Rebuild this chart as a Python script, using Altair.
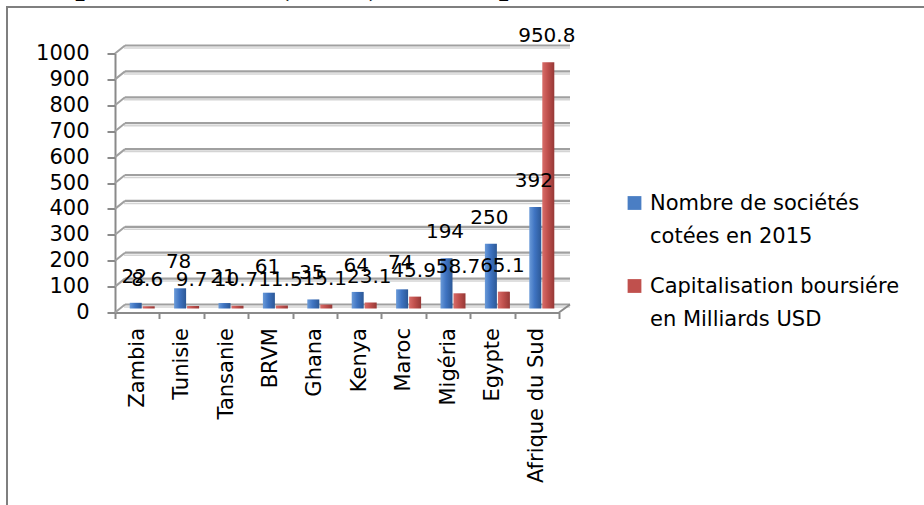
import altair as alt
import pandas as pd

# Data: listed companies and market capitalisation of African stock exchanges
pays = ["Zambia", "Tunisie", "Tansanie", "BRVM", "Ghana", "Kenya", "Maroc",
        "Migéria", "Egypte", "Afrique du Sud"]
nombre_societes = [22, 78, 21, 61, 35, 64, 74, 194, 250, 392]
capitalisation = [8.6, 9.7, 10.7, 11.5, 15.1, 23.1, 45.9, 58.7, 65.1, 950.8]

series = ["Nombre de sociétés cotées en 2015",
          "Capitalisation boursiére en Milliards USD"]
series_wrapped = ["Nombre de sociétés\ncotées en 2015",
                  "Capitalisation boursiére\nen Milliards USD"]
y_ticks = [0, 100, 200, 300, 400, 500, 600, 700, 800, 900, 1000]

title_left = "Les principales bourses"
title_right = "(BVM) en Afrique"

df = pd.DataFrame({"pays": pays, "nombre": nombre_societes, "capital": capitalisation})
grid_df = pd.DataFrame({"v": y_ticks})
one = pd.DataFrame({"k": [0]})

W, H = 444, 259
FONT = "DejaVu Sans"
AXIS_GREY = "#8a8a8a"
GRID_GREY = "#a0a0a0"

x_axis = alt.Axis(labelAngle=-90, labelFont=FONT, labelFontSize=21,
                  labelColor="black", labelPadding=9, tickBand="extent",
                  tickSize=6, tickColor=AXIS_GREY, tickWidth=2,
                  domainColor=AXIS_GREY, domainWidth=2, labelLimit=300)
y_axis = alt.Axis(values=y_ticks, format="d", grid=False, labelFont=FONT,
                  labelFontSize=21, labelColor="black", labelPadding=18,
                  tickSize=8, tickColor=AXIS_GREY, tickWidth=2,
                  domainColor=AXIS_GREY, domainWidth=2)
x_scale = alt.Scale(paddingInner=0, paddingOuter=0)
y_scale = alt.Scale(domain=[0, 1000], nice=False)


def X():
    return alt.X("pays:N", sort=pays, title=None, scale=x_scale, axis=x_axis)


def Y(field):
    return alt.Y(field, title=None, scale=y_scale, axis=y_axis)


blue_fill = alt.Gradient(gradient="linear", x1=0, x2=1, y1=0, y2=0,
                         stops=[alt.GradientStop(color="#6a9ad8", offset=0),
                                alt.GradientStop(color="#3f74c2", offset=0.45),
                                alt.GradientStop(color="#2c5896", offset=1)])
red_fill = alt.Gradient(gradient="linear", x1=0, x2=1, y1=0, y2=0,
                        stops=[alt.GradientStop(color="#d86c68", offset=0),
                               alt.GradientStop(color="#c0504d", offset=0.45),
                               alt.GradientStop(color="#963836", offset=1)])

# 3D-style walls: back-wall gridlines, slanted connectors and floor edge
grid_shadow = alt.Chart(grid_df).mark_rule(color="#d4d4d4", strokeWidth=1.5, yOffset=-5.5).encode(
    y=Y("v:Q"), x=alt.value(9), x2=alt.value(W + 11))
grid = alt.Chart(grid_df).mark_rule(color=GRID_GREY, strokeWidth=2.2, yOffset=-8).encode(
    y=Y("v:Q"), x=alt.value(10), x2=alt.value(W + 11))
connectors = alt.Chart(grid_df).mark_rule(color=GRID_GREY, strokeWidth=2, y2Offset=-8).encode(
    y=Y("v:Q"), y2="v:Q", x=alt.value(0), x2=alt.value(10))
floor_right = alt.Chart(grid_df[grid_df.v == 0]).mark_rule(
    color=AXIS_GREY, strokeWidth=2, y2Offset=-8).encode(
    y=Y("v:Q"), y2="v:Q", x=alt.value(W), x2=alt.value(W + 11))

blue = alt.Chart(df).mark_bar(width=12, xOffset=-1.5, yOffset=-4, y2Offset=-4,
                              fill=blue_fill).encode(x=X(), y=Y("nombre:Q"))
red = alt.Chart(df).mark_bar(width=12, xOffset=11.5, yOffset=-4, y2Offset=-4,
                             fill=red_fill).encode(x=X(), y=Y("capital:Q"))

blue_lbl = alt.Chart(df).mark_text(font=FONT, fontSize=20, color="black",
                                   xOffset=-3, dy=-30, baseline="middle").encode(
    x=X(), y=Y("nombre:Q"), text=alt.Text("nombre:Q"))
red_lbl = alt.Chart(df).mark_text(font=FONT, fontSize=20, color="black",
                                  xOffset=10, dy=-30, baseline="middle").encode(
    x=X(), y=Y("capital:Q"), text=alt.Text("capital:Q"))

# Legend drawn beside the plot
legend_layers = []
for i, (name, color) in enumerate(zip(series_wrapped, ["#4a7ec4", "#c0504d"])):
    dy = i * 83
    legend_layers.append(alt.Chart(one).mark_square(size=190, color=color, opacity=1).encode(
        x=alt.value(519.5), y=alt.value(149.5 + dy)))
    legend_layers.append(alt.Chart(one).mark_text(
        font=FONT, fontSize=21, align="left", baseline="alphabetic", lineBreak="\n",
        lineHeight=33, color="black").encode(
        x=alt.value(535), y=alt.value(156.5 + dy), text=alt.value(name)))

# Outer frame and heading text running off the top edge
frame = alt.Chart(one).mark_rect(fill=None, stroke="#7f7f7f", strokeWidth=2).encode(
    x=alt.value(-108), x2=alt.value(W + 500),
    y=alt.value(-46.5), y2=alt.value(H + 400))
head_l = alt.Chart(one).mark_text(font="Liberation Serif", fontWeight="bold", fontSize=34,
                                  align="right", baseline="alphabetic", color="black").encode(
    x=alt.value(278 - 115 - 9), y=alt.value(-6 - 53.5), text=alt.value(title_left))
head_r = alt.Chart(one).mark_text(font="Liberation Serif", fontWeight="bold", fontSize=34,
                                  align="left", baseline="alphabetic", color="black").encode(
    x=alt.value(278 - 115), y=alt.value(-6 - 53.5), text=alt.value(title_right))

chart = alt.layer(
    grid_shadow, grid, connectors, floor_right, blue, red, blue_lbl, red_lbl,
    frame, *legend_layers, head_l, head_r
).properties(
    width=W, height=H,
    autosize=alt.AutoSizeParams(type="none"),
    padding={"left": 115, "top": 53.5, "right": 365, "bottom": 192.5},
    background="white"
).configure_view(stroke=None)

chart.save("out.html", embed_options={"renderer": "svg", "actions": False})
